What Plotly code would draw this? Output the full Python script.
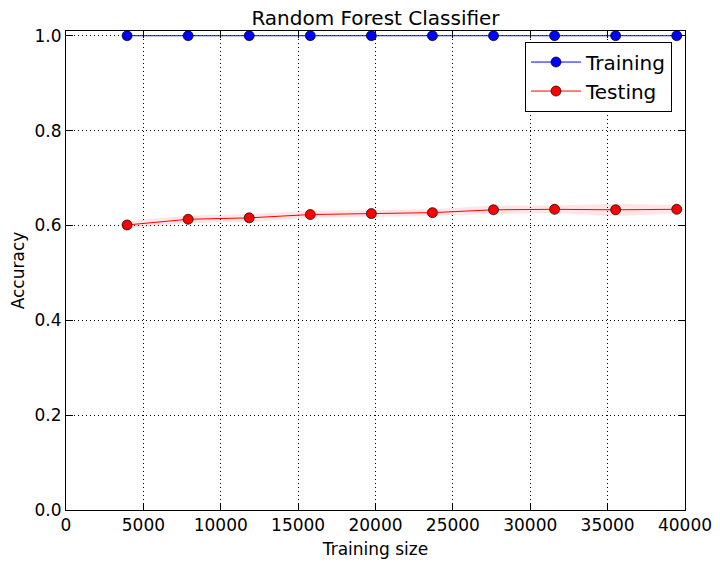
import plotly.graph_objects as go

# learning curve values
train_sizes = [3946, 7893, 11839, 15786, 19732, 23679, 27625, 31572, 35518, 39465]
train_scores = [1.0, 1.0, 1.0, 1.0, 1.0, 1.0, 1.0, 1.0, 1.0, 1.0]
test_scores = [0.601, 0.613, 0.616, 0.623, 0.625, 0.627, 0.633, 0.634, 0.633, 0.634]
test_std = [0.008, 0.008, 0.008, 0.008, 0.007, 0.007, 0.009, 0.008, 0.013, 0.009]

x_ticks = [0, 5000, 10000, 15000, 20000, 25000, 30000, 35000, 40000]
y_ticks = [0.0, 0.2, 0.4, 0.6, 0.8, 1.0]

font = "DejaVu Sans"

fig = go.Figure()

fig.add_trace(go.Scatter(
    x=train_sizes, y=train_scores, mode="lines+markers", name="Training",
    line=dict(color="blue", width=1),
    marker=dict(color="blue", size=10, line=dict(color="black", width=0.7)),
))

# std band for testing
upper = [m + s for m, s in zip(test_scores, test_std)]
lower = [m - s for m, s in zip(test_scores, test_std)]
fig.add_trace(go.Scatter(x=train_sizes, y=upper, mode="lines", line=dict(width=0),
                         showlegend=False, hoverinfo="skip"))
fig.add_trace(go.Scatter(x=train_sizes, y=lower, mode="lines", line=dict(width=0),
                         fill="tonexty", fillcolor="rgba(255,0,0,0.1)",
                         showlegend=False, hoverinfo="skip"))

fig.add_trace(go.Scatter(
    x=train_sizes, y=test_scores, mode="lines+markers", name="Testing",
    line=dict(color="red", width=1),
    marker=dict(color="red", size=10, line=dict(color="black", width=0.7)),
))

axis_style = dict(
    showline=True, linecolor="black", linewidth=1, mirror="ticks",
    ticks="inside", ticklen=7, tickcolor="black",
    showgrid=True, gridcolor="black", gridwidth=0.5, griddash="1px,3px",
    zeroline=False, tickfont=dict(size=17, color="black"), automargin=False,
)

fig.update_xaxes(range=[0, 40000], tickvals=x_ticks, tickformat="d",
                 title=dict(text="Training size", font=dict(size=17, color="black"), standoff=8),
                 **axis_style)
fig.update_yaxes(range=[0, 1.01], tickvals=y_ticks, tickformat=".1f",
                 title=dict(text="Accuracy", font=dict(size=17, color="black"), standoff=5),
                 **axis_style)

# the page body adds an 8px offset, so margins are shifted to compensate
fig.update_layout(
    width=720, height=570,
    margin=dict(l=58, r=43, t=23, b=68),
    paper_bgcolor="white", plot_bgcolor="white",
    font=dict(family=font, color="black"),
    title=dict(text="Random Forest Classifier", x=0.5, xanchor="center", xref="paper",
               y=1, yref="paper", yanchor="bottom", pad=dict(b=6),
               font=dict(size=20, color="black")),
    legend=dict(x=0.979, y=0.978, xanchor="right", yanchor="top", traceorder="normal",
                bordercolor="black", borderwidth=1, bgcolor="white", itemwidth=50,
                font=dict(size=20, color="black")),
    showlegend=True,
)

fig.write_html("out.html")
